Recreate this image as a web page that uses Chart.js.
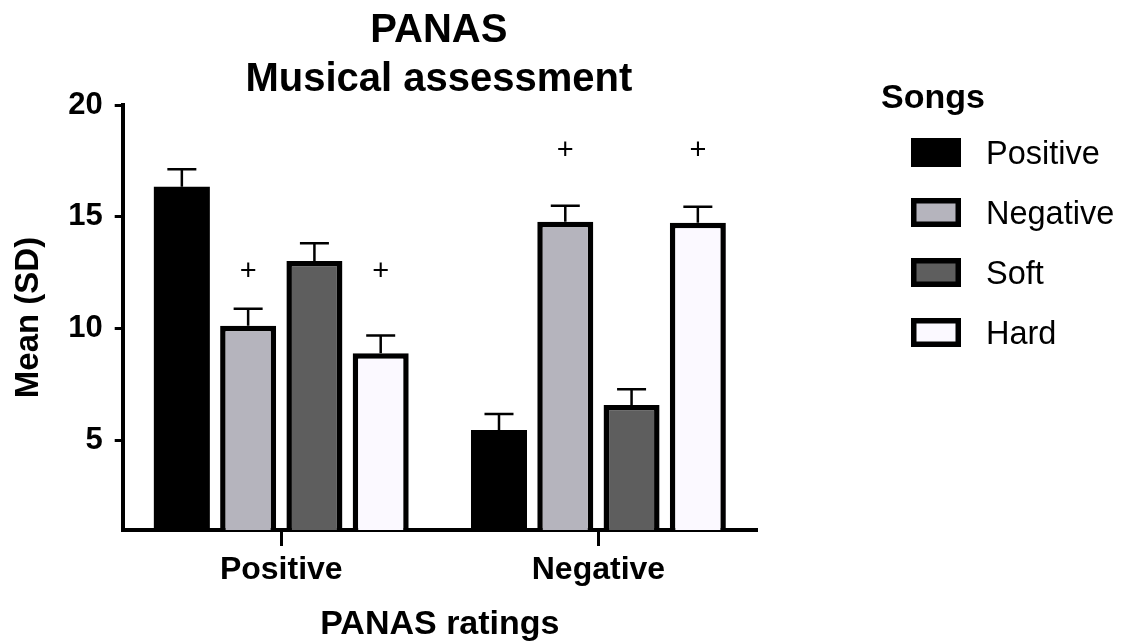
<!DOCTYPE html>
<html>
<head>
<meta charset="utf-8">
<script src="https://cdn.jsdelivr.net/npm/chart.js@4.4.1/dist/chart.umd.min.js"></script>
<style>
  html, body { margin: 0; padding: 0; background: #ffffff; }
  canvas { display: block; }
</style>
</head>
<body>
<canvas id="panas" width="1128" height="642"></canvas>
<script>
// PANAS ratings by song type: means and standard deviations
const categories = ['Positive', 'Negative'];
const songTypes = ['Positive', 'Negative', 'Soft', 'Hard'];
const positiveMean = [16.35, 5.47];
const positiveSD = [0.78, 0.72];
const negativeMean = [10.13, 14.78];
const negativeSD = [0.76, 0.72];
const softMean = [13.03, 6.59];
const softSD = [0.79, 0.70];
const hardMean = [8.90, 14.74];
const hardSD = [0.79, 0.71];
const yTicks = [5, 10, 15, 20];
// "+" markers: song series that carry one, and the level (in rating units) per PANAS group
const markedSeries = ['Negative', 'Hard'];
const markLevel = [12.53, 17.94];

const FONT = '"Liberation Sans", Arial, Helvetica, sans-serif';
Chart.defaults.font.family = FONT;
Chart.defaults.color = '#000';

const fills = ['#000000', '#b5b4bd', '#5e5e5e', '#fbf9ff'];
const means = [positiveMean, negativeMean, softMean, hardMean];
const sds = [positiveSD, negativeSD, softSD, hardSD];

const datasets = songTypes.map((name, i) => ({
  label: name,
  data: means[i],
  sd: sds[i],
  backgroundColor: fills[i],
  borderColor: '#000',
  borderWidth: i === 0 ? 0 : 5.5,
  borderSkipped: 'start',
  categoryPercentage: 0.836,
  barPercentage: 0.845
}));

// mean + SD whiskers above each bar
const errorBars = {
  id: 'errorBars',
  afterDatasetsDraw(chart) {
    const ctx = chart.ctx;
    const y = chart.scales.y;
    ctx.save();
    ctx.strokeStyle = '#000';
    ctx.lineWidth = 2.5;
    chart.data.datasets.forEach((ds, i) => {
      chart.getDatasetMeta(i).data.forEach((bar, j) => {
        const top = y.getPixelForValue(ds.data[j] + ds.sd[j]);
        ctx.beginPath();
        ctx.moveTo(bar.x, bar.y);
        ctx.lineTo(bar.x, top);
        ctx.moveTo(bar.x - 14.5, top);
        ctx.lineTo(bar.x + 14.5, top);
        ctx.stroke();
      });
    });
    ctx.restore();
  }
};

// "+" significance marks
const marks = {
  id: 'marks',
  afterDatasetsDraw(chart) {
    const ctx = chart.ctx;
    const y = chart.scales.y;
    ctx.save();
    ctx.fillStyle = '#000';
    ctx.font = '29px ' + FONT;
    ctx.textAlign = 'center';
    ctx.textBaseline = 'middle';
    chart.data.datasets.forEach((ds, i) => {
      if (!markedSeries.includes(ds.label)) return;
      chart.getDatasetMeta(i).data.forEach((bar, j) => {
        ctx.fillText('+', bar.x, y.getPixelForValue(markLevel[j]));
      });
    });
    ctx.restore();
  }
};

// two-line heading centred over the plot, and the "Songs" key on the right
const headingAndKey = {
  id: 'headingAndKey',
  afterDraw(chart) {
    const ctx = chart.ctx;
    const area = chart.chartArea;
    const cx = (area.left + area.right) / 2 - 1;
    ctx.save();
    ctx.fillStyle = '#000';
    ctx.textAlign = 'center';
    ctx.textBaseline = 'alphabetic';
    ctx.font = 'bold 40px ' + FONT;
    ctx.fillText('PANAS', cx, 42);
    ctx.fillText('Musical assessment', cx, 91);

    ctx.textAlign = 'left';
    ctx.font = 'bold 34px ' + FONT;
    ctx.fillText('Songs', 881, 108);

    ctx.font = '32.5px ' + FONT;
    chart.data.datasets.forEach((ds, i) => {
      const bx = 911, bw = 50, bh = 29;
      const by = 138 + i * 60;
      const bwid = ds.borderWidth;
      ctx.fillStyle = '#000';
      ctx.fillRect(bx, by, bw, bh);
      if (bwid > 0) {
        ctx.fillStyle = ds.backgroundColor;
        ctx.fillRect(bx + bwid, by + bwid, bw - 2 * bwid, bh - 2 * bwid);
      }
      ctx.fillStyle = '#000';
      ctx.fillText(ds.label, 986, by + bh / 2 + 11);
    });
    ctx.restore();
  }
};

new Chart(document.getElementById('panas'), {
  type: 'bar',
  data: { labels: categories, datasets },
  plugins: [errorBars, marks, headingAndKey],
  options: {
    responsive: false,
    devicePixelRatio: 1,
    animation: false,
    layout: { padding: { left: 4, right: 371, top: 105, bottom: 0 } },
    plugins: {
      legend: { display: false },
      title: { display: false },
      tooltip: { enabled: false }
    },
    scales: {
      x: {
        type: 'category',
        offset: true,
        afterFit(scale) { scale.height = 112; },
        grid: {
          offset: false,
          drawOnChartArea: false,
          drawTicks: true,
          tickLength: 16,
          tickWidth: 3,
          tickColor: '#000'
        },
        border: { display: true, color: '#000', width: 4 },
        ticks: {
          padding: 5,
          color: '#000',
          font: { size: 32, weight: 'bold' }
        },
        title: {
          display: true,
          text: 'PANAS ratings',
          color: '#000',
          font: { size: 34, weight: 'bold', lineHeight: 1.0 },
          padding: { top: 0, bottom: 0 }
        }
      },
      y: {
        min: 1,
        max: 20,
        afterFit(scale) { scale.width = 118.7; },
        afterBuildTicks(scale) { scale.ticks = yTicks.map(v => ({ value: v })); },
        grid: {
          drawOnChartArea: false,
          drawTicks: true,
          tickLength: 8,
          tickWidth: 3,
          tickColor: '#000'
        },
        border: { display: true, color: '#000', width: 4 },
        ticks: {
          padding: 12,
          color: '#000',
          font: { size: 31, weight: 'bold' }
        },
        title: {
          display: true,
          text: 'Mean (SD)',
          color: '#000',
          font: { size: 33, weight: 'bold' },
          padding: { top: 5, bottom: 0 }
        }
      }
    }
  }
});
</script>
</body>
</html>
